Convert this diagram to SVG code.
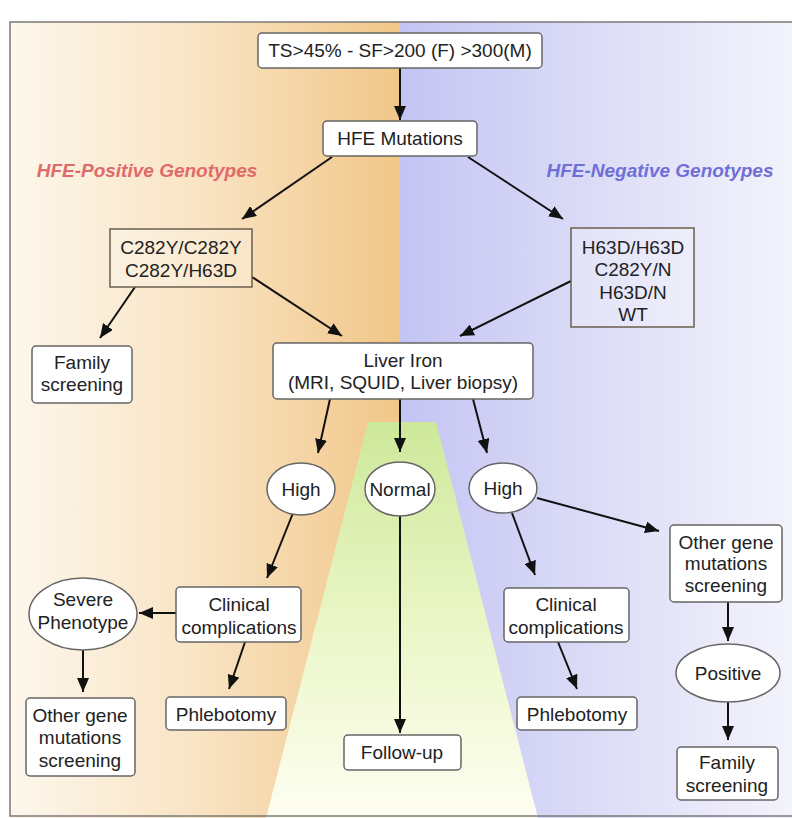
<svg xmlns="http://www.w3.org/2000/svg" width="792" height="818" viewBox="0 0 792 818">
<defs>
<linearGradient id="gl" x1="0" y1="0" x2="1" y2="0">
<stop offset="0" stop-color="#fdf7ec"/>
<stop offset="0.5" stop-color="#f9e3c2"/>
<stop offset="1" stop-color="#f1c688"/>
</linearGradient>
<linearGradient id="gr" x1="0" y1="0" x2="1" y2="0">
<stop offset="0" stop-color="#c4c4f4"/>
<stop offset="0.5" stop-color="#dcdcf7"/>
<stop offset="1" stop-color="#f3f3fc"/>
</linearGradient>
<linearGradient id="gg" x1="0" y1="0" x2="0" y2="1">
<stop offset="0" stop-color="#cde89a"/>
<stop offset="0.5" stop-color="#eaf6c6"/>
<stop offset="1" stop-color="#fefef2"/>
</linearGradient>
<marker id="ah" markerUnits="userSpaceOnUse" markerWidth="15" markerHeight="12" refX="14" refY="6" orient="auto">
<path d="M0,0 L14,6 L0,12 z" fill="#111"/>
</marker>
</defs>
<style>
.bx{fill:#fff;stroke:#666;stroke-width:1.5}
.gb{fill:#fff;fill-opacity:0.25;stroke:#6a6050;stroke-width:1.5}
.t{font-family:"Liberation Sans",Arial,sans-serif;font-size:19px;fill:#222;text-anchor:middle}
.lab{font-family:"Liberation Sans",Arial,sans-serif;font-size:19px;font-weight:bold;font-style:italic;text-anchor:middle}
.c{stroke:#111;stroke-width:2;fill:none;marker-end:url(#ah)}
</style>
<rect x="0" y="0" width="792" height="818" fill="#fff"/>
<rect x="10" y="22" width="390" height="796" fill="url(#gl)"/>
<rect x="400" y="22" width="392" height="796" fill="url(#gr)"/>
<polygon points="368,422 436,422 538,818 266,818" fill="url(#gg)"/>
<rect x="10" y="22" width="790" height="794" fill="none" stroke="#7a7a7a" stroke-width="1.5"/>
<text class="lab" x="147" y="177" fill="#e06a6a">HFE-Positive Genotypes</text>
<text class="lab" x="660" y="177" fill="#6f6fd6">HFE-Negative Genotypes</text>
<g id="connectors">
<line class="c" x1="400" y1="68" x2="400" y2="120"/>
<line class="c" x1="332" y1="157" x2="242" y2="219"/>
<line class="c" x1="468" y1="157" x2="563" y2="219"/>
<line class="c" x1="135" y1="287" x2="100" y2="338"/>
<line class="c" x1="252" y1="277" x2="342" y2="336"/>
<line class="c" x1="571" y1="281" x2="460" y2="336"/>
<line class="c" x1="330" y1="399" x2="318" y2="453"/>
<line class="c" x1="400" y1="399" x2="400" y2="452"/>
<line class="c" x1="473" y1="399" x2="487" y2="453"/>
<line class="c" x1="293" y1="513" x2="267" y2="578"/>
<line class="c" x1="176" y1="613" x2="139" y2="613"/>
<line class="c" x1="83" y1="650" x2="83" y2="692"/>
<line class="c" x1="245" y1="642" x2="229" y2="689"/>
<line class="c" x1="400" y1="516" x2="400" y2="733"/>
<line class="c" x1="512" y1="513" x2="535" y2="575"/>
<line class="c" x1="537" y1="498" x2="659" y2="531"/>
<line class="c" x1="558" y1="642" x2="577" y2="689"/>
<line class="c" x1="728" y1="602" x2="728" y2="641"/>
<line class="c" x1="728" y1="702" x2="728" y2="740"/>
</g>
<g id="n-ts"><rect class="bx" x="258" y="33" width="284" height="35" rx="4"/><text class="t" x="400" y="57">TS&gt;45% - SF&gt;200 (F) &gt;300(M)</text></g>
<g id="n-hfe"><rect class="bx" x="323" y="121" width="154" height="35" rx="4"/><text class="t" x="400" y="145">HFE Mutations</text></g>
<g id="n-pos"><rect class="gb" x="110" y="229" width="142" height="58"/><text class="t" x="181" y="254">C282Y/C282Y</text><text class="t" x="181" y="277">C282Y/H63D</text></g>
<g id="n-neg"><rect class="gb" x="571" y="228" width="123" height="99"/><text class="t" x="633" y="254">H63D/H63D</text><text class="t" x="633" y="276">C282Y/N</text><text class="t" x="633" y="299">H63D/N</text><text class="t" x="633" y="321">WT</text></g>
<g id="n-fam1"><rect class="bx" x="32" y="346" width="100" height="57" rx="4"/><text class="t" x="82" y="369">Family</text><text class="t" x="82" y="391">screening</text></g>
<g id="n-liver"><rect class="bx" x="273" y="343" width="260" height="56" rx="4"/><text class="t" x="403" y="367">Liver Iron</text><text class="t" x="403" y="389">(MRI, SQUID, Liver biopsy)</text></g>
<g id="n-high1"><ellipse class="bx" cx="301" cy="489" rx="34" ry="26"/><text class="t" x="301" y="496">High</text></g>
<g id="n-normal"><ellipse class="bx" cx="400" cy="489" rx="35" ry="27"/><text class="t" x="400" y="496">Normal</text></g>
<g id="n-high2"><ellipse class="bx" cx="503" cy="488" rx="34" ry="25"/><text class="t" x="503" y="495">High</text></g>
<g id="n-clin1"><rect class="bx" x="176" y="587" width="125" height="55" rx="4"/><text class="t" x="239" y="611">Clinical</text><text class="t" x="239" y="634">complications</text></g>
<g id="n-severe"><ellipse class="bx" cx="83" cy="614" rx="54" ry="36"/><text class="t" x="83" y="606">Severe</text><text class="t" x="83" y="629">Phenotype</text></g>
<g id="n-other1"><rect class="bx" x="26" y="698" width="109" height="78" rx="4"/><text class="t" x="80" y="722">Other gene</text><text class="t" x="80" y="744">mutations</text><text class="t" x="80" y="767">screening</text></g>
<g id="n-phleb1"><rect class="bx" x="166" y="697" width="120" height="33" rx="4"/><text class="t" x="226" y="721">Phlebotomy</text></g>
<g id="n-follow"><rect class="bx" x="344" y="735" width="117" height="35" rx="4"/><text class="t" x="402" y="759">Follow-up</text></g>
<g id="n-clin2"><rect class="bx" x="504" y="588" width="125" height="54" rx="4"/><text class="t" x="566" y="611">Clinical</text><text class="t" x="566" y="634">complications</text></g>
<g id="n-phleb2"><rect class="bx" x="517" y="697" width="120" height="33" rx="4"/><text class="t" x="577" y="721">Phlebotomy</text></g>
<g id="n-other2"><rect class="bx" x="670" y="525" width="112" height="77" rx="4"/><text class="t" x="726" y="549">Other gene</text><text class="t" x="726" y="570">mutations</text><text class="t" x="726" y="592">screening</text></g>
<g id="n-positive"><ellipse class="bx" cx="728" cy="673" rx="52" ry="29"/><text class="t" x="728" y="680">Positive</text></g>
<g id="n-fam2"><rect class="bx" x="677" y="747" width="101" height="53" rx="4"/><text class="t" x="727" y="769">Family</text><text class="t" x="727" y="792">screening</text></g>
</svg>
